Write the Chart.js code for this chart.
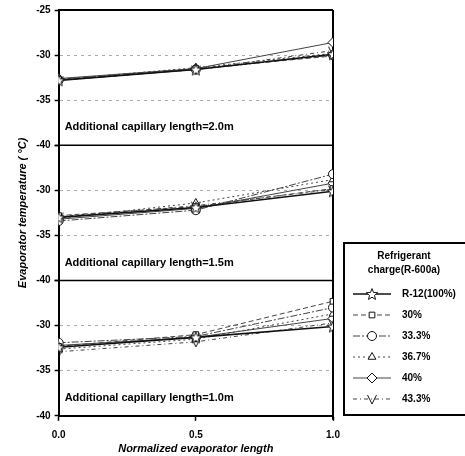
<!DOCTYPE html>
<html>
<head>
<meta charset="utf-8">
<script src="https://cdn.jsdelivr.net/npm/chart.js@4"></script>
<style>
    html, body { margin: 0; padding: 0; background: #fff; }
    #wrap { width: 465px; height: 456px; position: relative; }
</style>
</head>
<body>
<div id="wrap"><canvas id="chart"></canvas></div>
<script>
const xPositions = [0.0, 0.5, 1.0];
const chargeLabels = ["R-12(100%)", "30%", "33.3%", "36.7%", "40%", "43.3%"];
const panelLabels = [
    "Additional capillary length=2.0m",
    "Additional capillary length=1.5m",
    "Additional capillary length=1.0m",
];
const yMin = -40;
const yMax = -25;

// capillary length 2.0m
const r12_20 = [-32.8, -31.6, -29.9];
const c30_20 = [-32.7, -31.5, -30.1];
const c333_20 = [-32.8, -31.6, -30.0];
const c367_20 = [-32.7, -31.4, -29.8];
const c40_20 = [-32.6, -31.5, -28.6];
const c433_20 = [-32.8, -31.6, -29.5];

// capillary length 1.5m
const r12_15 = [-33.0, -31.9, -30.1];
const c30_15 = [-32.8, -31.8, -29.8];
const c333_15 = [-33.4, -32.2, -28.2];
const c367_15 = [-33.1, -31.4, -28.8];
const c40_15 = [-33.2, -32.0, -29.2];
const c433_15 = [-32.9, -31.7, -29.9];

// capillary length 1.0m
const r12_10 = [-32.4, -31.3, -30.1];
const c30_10 = [-32.3, -31.0, -27.3];
const c333_10 = [-31.9, -31.2, -28.0];
const c367_10 = [-32.6, -31.5, -28.7];
const c40_10 = [-32.2, -31.3, -29.2];
const c433_10 = [-32.9, -31.8, -29.7];

const panelSeries = [
    [r12_20, c30_20, c333_20, c367_20, c40_20, c433_20],
    [r12_15, c30_15, c333_15, c367_15, c40_15, c433_15],
    [r12_10, c30_10, c333_10, c367_10, c40_10, c433_10],
];

function makeMarker(kind) {
    const s = 14;
    const c = document.createElement("canvas");
    c.width = s;
    c.height = s;
    const g = c.getContext("2d");
    g.strokeStyle = "#111";
    g.fillStyle = "#fff";
    g.lineWidth = 1;
    g.beginPath();
    if (kind === "star") {
        for (let i = 0; i < 10; i++) {
            const r = i % 2 ? 2.6 : 6;
            const a = -Math.PI / 2 + (i * Math.PI) / 5;
            const px = 7 + r * Math.cos(a);
            const py = 7.6 + r * Math.sin(a);
            if (i === 0) g.moveTo(px, py);
            else g.lineTo(px, py);
        }
        g.closePath();
        g.fill();
    } else {
        g.moveTo(2.5, 3);
        g.lineTo(7, 12);
        g.lineTo(11.5, 3);
    }
    g.stroke();
    return c;
}

const starImg = makeMarker("star");
const vImg = makeMarker("v");

const seriesStyles = [
    { dash: [], width: 1.6, color: "#111", point: starImg, radius: 6 },
    { dash: [5, 3], width: 1, color: "#444", point: "rect", radius: 4 },
    { dash: [7, 2, 2, 2], width: 1, color: "#444", point: "circle", radius: 4.5 },
    { dash: [2, 3], width: 1, color: "#444", point: "triangle", radius: 4.5 },
    { dash: [], width: 1, color: "#444", point: "rectRot", radius: 5 },
    { dash: [4, 3, 1, 3], width: 1, color: "#444", point: vImg, radius: 6 },
];

const datasets = [];
panelSeries.forEach((series, p) => {
    series.forEach((vals, s) => {
        const st = seriesStyles[s];
        datasets.push({
            label: chargeLabels[s],
            data: xPositions.map((x, i) => ({ x: x, y: vals[i] })),
            yAxisID: "y" + p,
            borderColor: st.color,
            borderWidth: st.width,
            borderDash: st.dash,
            pointStyle: st.point,
            pointRadius: st.radius,
            pointBorderColor: "#111",
            pointBackgroundColor: "#fff",
            pointBorderWidth: 1,
            fill: false,
            tension: 0,
        });
    });
});

function yScale(p) {
    return {
        type: "linear",
        min: yMin,
        max: yMax,
        position: "left",
        stack: "temp",
        stackWeight: 1,
        ticks: {
            stepSize: 5,
            padding: 4,
            color: "#000",
            font: { family: "Liberation Sans, Arial", size: 10, weight: "bold" },
            callback: (v) => (p > 0 && v === yMax ? "" : v),
        },
        grid: {
            color: (ctx) =>
                ctx.tick && (ctx.tick.value === -30 || ctx.tick.value === -35)
                    ? "#aaa"
                    : "rgba(0,0,0,0)",
            drawTicks: true,
            tickLength: 4,
            tickColor: "#000",
            tickWidth: 1.5,
        },
        border: { color: "#000", width: 2, dash: [3, 4] },
        title: {
            display: p === 1,
            text: "Evaporator temperature ( °C)",
            color: "#000",
            padding: 3,
            font: { family: "Liberation Sans, Arial", size: 11, weight: "bold", style: "italic" },
        },
    };
}

const framePlugin = {
    id: "frame",
    beforeDatasetsDraw(chart) {
        const ctx = chart.ctx;
        const a = chart.chartArea;
        ctx.save();
        ctx.strokeStyle = "#000";
        ctx.lineWidth = 2;
        ctx.beginPath();
        ctx.moveTo(a.left, a.top);
        ctx.lineTo(a.right, a.top);
        ctx.moveTo(a.right, a.top);
        ctx.lineTo(a.right, a.bottom + 4);
        ctx.stroke();
        ctx.lineWidth = 1.5;
        ["y1", "y2"].forEach((id) => {
            const t = chart.scales[id].top;
            ctx.beginPath();
            ctx.moveTo(a.left, t);
            ctx.lineTo(a.right, t);
            ctx.stroke();
        });
        ctx.restore();
    },
    afterDraw(chart) {
        const ctx = chart.ctx;
        const a = chart.chartArea;
        ctx.save();
        ctx.fillStyle = "#000";
        ctx.font = "bold 11px 'Liberation Sans', Arial";
        ctx.textBaseline = "middle";
        ctx.textAlign = "left";
        ["y0", "y1", "y2"].forEach((id, p) => {
            ctx.fillText(panelLabels[p], a.left + 6, chart.scales[id].bottom - 18);
        });

        // legend box
        const lx = 344, ly = 243, lw = 122, lh = 172;
        ctx.lineWidth = 2;
        ctx.strokeStyle = "#000";
        ctx.strokeRect(lx, ly, lw, lh);
        ctx.textAlign = "center";
        ctx.font = "bold 10px 'Liberation Sans', Arial";
        ctx.fillText("Refrigerant", 404, 256);
        ctx.fillText("charge(R-600a)", 404, 270);
        chargeLabels.forEach((lab, s) => {
            const st = seriesStyles[s];
            const y = 294 + s * 21;
            ctx.save();
            ctx.strokeStyle = st.color;
            ctx.lineWidth = st.width;
            ctx.setLineDash(st.dash);
            ctx.beginPath();
            ctx.moveTo(353, y);
            ctx.lineTo(391, y);
            ctx.stroke();
            ctx.setLineDash([]);
            ctx.strokeStyle = "#111";
            ctx.fillStyle = "#fff";
            ctx.lineWidth = 1;
            Chart.helpers.drawPoint(
                ctx,
                { pointStyle: st.point, radius: st.radius, rotation: 0, borderWidth: 1 },
                372,
                y
            );
            ctx.restore();
            ctx.textAlign = "left";
            ctx.fillStyle = "#000";
            ctx.fillText(lab, 402, y);
        });
        ctx.restore();
    },
};

new Chart(document.getElementById("chart"), {
    type: "line",
    data: { datasets: datasets },
    options: {
        responsive: true,
        maintainAspectRatio: false,
        animation: false,
        layout: { padding: { top: 3, right: 132, left: 13, bottom: 0 } },
        plugins: { legend: { display: false }, tooltip: { enabled: false } },
        scales: {
            x: {
                type: "linear",
                min: 0,
                max: 1,
                position: "bottom",
                ticks: {
                    stepSize: 0.5,
                    color: "#000",
                    padding: 8,
                    font: { family: "Liberation Sans, Arial", size: 10, weight: "bold" },
                    callback: (v) => v.toFixed(1),
                },
                grid: { drawOnChartArea: false, drawTicks: true, tickLength: 5, tickColor: "#000", tickWidth: 1.5 },
                border: { color: "#000", width: 2 },
                title: {
                    display: true,
                    text: "Normalized evaporator length",
                    color: "#000",
                    padding: { top: -6, bottom: 0 },
                    font: { family: "Liberation Sans, Arial", size: 11, weight: "bold", style: "italic" },
                },
            },
            // stacked axes are laid out bottom first
            y2: yScale(2),
            y1: yScale(1),
            y0: yScale(0),
        },
    },
    plugins: [framePlugin],
});
</script>
</body>
</html>
